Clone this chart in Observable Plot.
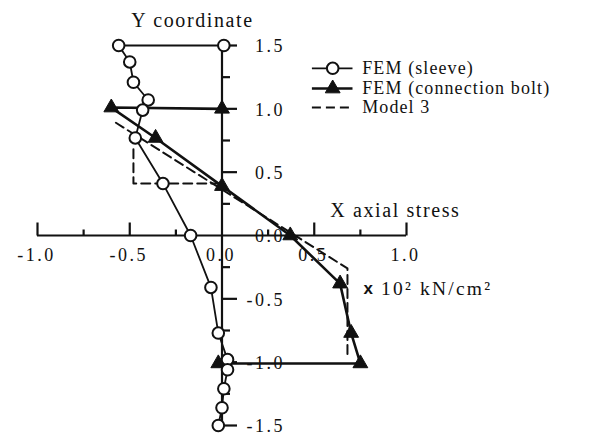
<!DOCTYPE html>
<html>
<head>
<meta charset="utf-8">
<script src="https://cdn.jsdelivr.net/npm/d3@7"></script>
<script src="https://cdn.jsdelivr.net/npm/@observablehq/plot@0.6"></script>
<style>
  html, body { margin: 0; padding: 0; background: #fff; }
</style>
</head>
<body>
<div id="chart"></div>
<script>
// Axial stress (x 10^2 kN/cm^2) along the Y coordinate
const sleeveX = [0.01, -0.56, -0.50, -0.48, -0.40, -0.43, -0.47, -0.32, -0.17, -0.06, -0.02, 0.03, 0.03, 0.01, 0.00, -0.02];
const sleeveY = [1.50, 1.50, 1.37, 1.21, 1.07, 0.99, 0.77, 0.41, 0.00, -0.41, -0.77, -0.98, -1.06, -1.21, -1.36, -1.50];

const boltX = [0.00, -0.60, -0.36, 0.00, 0.37, 0.64, 0.70, 0.75, -0.02];
const boltY = [1.00, 1.01, 0.77, 0.39, 0.00, -0.38, -0.77, -1.01, -1.01];

const model3X = [-0.575, 0.68, 0.68, -0.48, -0.48, 0.00];
const model3Y = [0.89, -0.26, -0.96, 0.68, 0.41, 0.41];
const model3Part = ["a", "a", "a", "b", "b", "b"];

const seriesNames = ["FEM (sleeve)", "FEM (connection bolt)", "Model 3"];

const xTicksMajor = [-1, -0.5, 0.5, 1];
const xTicksMinor = [-0.75, -0.25, 0.25, 0.75];
const xTickValues = [-1, -0.5, 0, 0.5, 1];
const xTickLabels = ["-1.0", "-0.5", "0.0", "0.5", "1.0"];

const yTicksMajor = [1.5, 1, 0.5, -0.5, -1, -1.5];
const yTicksMinor = [1.25, 0.75, 0.25, -0.25, -0.75, -1.25];
const yTickValues = [1.5, 1, 0.5, 0, -0.5, -1, -1.5];
const yTickLabels = ["1.5", "1.0", "0.5", "0.0", "-0.5", "-1.0", "-1.5"];

// tables built from the arrays above
const sleeve = sleeveX.map((x, i) => ({x, y: sleeveY[i]}));
const bolt = boltX.map((x, i) => ({x, y: boltY[i]}));
const model3 = model3X.map((x, i) => ({x, y: model3Y[i], part: model3Part[i]}));

// short line symbols used as axis ticks
const tickUp = len => ({draw(ctx) { ctx.moveTo(0, 0); ctx.lineTo(0, -len); }});
const tickRight = len => ({draw(ctx) { ctx.moveTo(0, 0); ctx.lineTo(len, 0); }});

const serif = "Liberation Serif, Times New Roman, serif";
const ink = "#111";

// legend placement (data units)
const legX1 = 0.49, legX2 = 0.71, legMid = 0.60, legText = 0.76;
const legRows = [1.32, 1.16, 1.01];

const chart = Plot.plot({
  width: 591,
  height: 437,
  marginLeft: 0, marginRight: 0, marginTop: 0, marginBottom: 0,
  x: {domain: [-1, 1], range: [37, 406], axis: null},
  y: {domain: [-1.5, 1.5], range: [425, 45], axis: null},
  style: {background: "#fff", color: ink},
  marks: [
    // tick labels
    Plot.text(xTickValues, {
      x: d => d, y: d => 0, text: (d, i) => xTickLabels[i],
      dy: 20, dx: -1, fontFamily: serif, fontSize: 18, fill: ink
    }),
    Plot.text(yTickValues, {
      x: d => 0, y: d => d, text: (d, i) => yTickLabels[i],
      dx: 63, dy: 1, textAnchor: "end", fontFamily: serif, fontSize: 18, fill: ink
    }),
    // axis titles
    Plot.text(["Y coordinate"], {
      x: d => -0.16, y: d => 1.70, text: d => d,
      fontFamily: serif, fontSize: 20, fill: ink
    }),
    Plot.text(["X axial stress"], {
      x: d => 0.94, y: d => 0.20, text: d => d,
      fontFamily: serif, fontSize: 20, fill: ink
    }),
    Plot.text(["x"], {
      x: d => 0.767, y: d => -0.42, text: d => d, textAnchor: "start",
      fontFamily: "Liberation Sans, Arial, sans-serif", fontWeight: "bold", fontSize: 17, fill: ink
    }),
    Plot.text(["10² kN/cm²"], {
      x: d => 0.862, y: d => -0.42, text: d => d, textAnchor: "start",
      fontFamily: serif, fontSize: 19.5, fill: ink
    }),

    // axes
    Plot.ruleX([0], {y1: -1.5, y2: 1.5, stroke: ink, strokeWidth: 2.2}),
    Plot.ruleY([0], {x1: -1, x2: 1, stroke: ink, strokeWidth: 2.2}),
    Plot.dot(xTicksMajor, {x: d => d, y: d => 0, symbol: tickUp(13), fill: "none", stroke: ink, strokeWidth: 2.2}),
    Plot.dot(xTicksMinor, {x: d => d, y: d => 0, symbol: tickUp(6), fill: "none", stroke: ink, strokeWidth: 2.2}),
    Plot.dot(yTicksMajor, {x: d => 0, y: d => d, symbol: tickRight(15), fill: "none", stroke: ink, strokeWidth: 2.2}),
    Plot.dot(yTicksMinor, {x: d => 0, y: d => d, symbol: tickRight(8), fill: "none", stroke: ink, strokeWidth: 2.2}),

    // Model 3 (dashed)
    Plot.line(model3, {x: "x", y: "y", z: "part", stroke: ink, strokeWidth: 2, strokeDasharray: "9,5"}),

    // FEM (connection bolt)
    Plot.line(bolt, {x: "x", y: "y", stroke: ink, strokeWidth: 2.6}),
    Plot.dot(bolt, {x: "x", y: "y", symbol: "triangle", r: 5.5, fill: ink, stroke: ink, strokeWidth: 1}),

    // FEM (sleeve)
    Plot.line(sleeve, {x: "x", y: "y", stroke: ink, strokeWidth: 1.8}),
    Plot.dot(sleeve, {x: "x", y: "y", r: 5.8, fill: "white", stroke: ink, strokeWidth: 2}),

    // legend
    Plot.ruleY([legRows[0]], {x1: legX1, x2: legX2, stroke: ink, strokeWidth: 1.8}),
    Plot.dot([legRows[0]], {x: d => legMid, y: d => d, r: 5.8, fill: "white", stroke: ink, strokeWidth: 2}),
    Plot.ruleY([legRows[1]], {x1: legX1, x2: legX2, stroke: ink, strokeWidth: 2.6}),
    Plot.dot([legRows[1]], {x: d => legMid, y: d => d, symbol: "triangle", r: 5.5, fill: ink, stroke: ink, strokeWidth: 1}),
    Plot.ruleY([legRows[2]], {x1: legX1, x2: legX2, stroke: ink, strokeWidth: 2, strokeDasharray: "9,5"}),
    Plot.text(seriesNames, {
      x: d => legText, y: (d, i) => legRows[i], text: d => d, textAnchor: "start",
      fontFamily: serif, fontSize: 18, fill: ink
    })
  ]
});

// letter spacing by kind of text
const tickSet = new Set([...xTickLabels, ...yTickLabels]);
const titleSet = new Set(["Y coordinate", "X axial stress"]);
const legendSet = new Set(seriesNames);
chart.querySelectorAll("text").forEach(t => {
  const s = t.textContent;
  if (tickSet.has(s)) t.style.letterSpacing = "2.5px";
  else if (titleSet.has(s)) t.style.letterSpacing = "1.6px";
  else if (legendSet.has(s)) t.style.letterSpacing = "1.1px";
  else if (s === "10² kN/cm²") t.style.letterSpacing = "2.2px";
});

document.getElementById("chart").appendChild(chart);
</script>
</body>
</html>
